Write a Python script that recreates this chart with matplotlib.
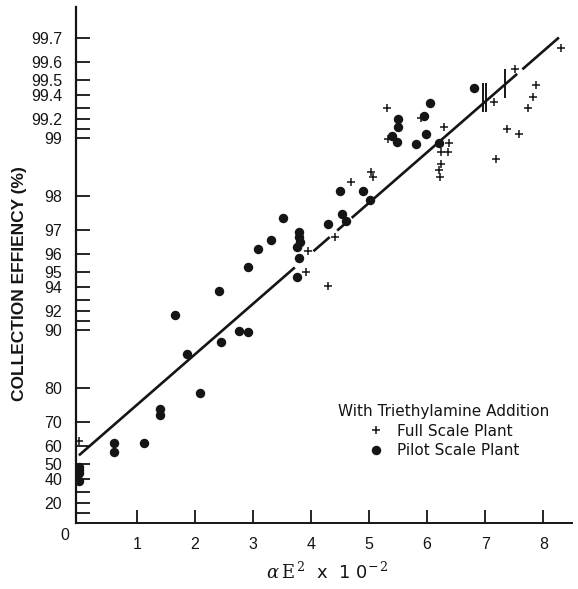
import numpy as np
import matplotlib
matplotlib.use("Agg")
import matplotlib.pyplot as plt

# ---------------- data ----------------
# Pilot scale plant (filled circles): alpha*E^2*1e-2 and collection efficiency (%)
pilot_x = [0.0, 0.0, 0.0, 0.0, 0.60, 0.60, 1.13, 1.40, 1.40, 1.65, 1.86, 2.09,
           2.45, 2.42, 2.75, 2.91, 2.92, 3.08, 3.31, 3.51, 3.75, 3.80, 3.75,
           3.81, 3.79, 3.79, 4.29, 4.50, 4.54, 4.60, 4.90, 5.02, 5.39, 5.48,
           5.49, 5.49, 5.81, 5.95, 5.98, 6.05, 6.20, 6.81]
pilot_eff = [48.5, 46.4, 44.4, 38.8, 61.1, 56.6, 61.2, 74.2, 72.3, 91.6, 86.7, 78.6,
             88.4, 93.7, 89.9, 89.8, 95.3, 96.2, 96.6, 97.4, 94.7, 95.8, 96.3,
             96.5, 96.9, 96.7, 97.2, 98.1, 97.5, 97.3, 98.1, 97.9, 99.02, 98.95,
             99.20, 99.12, 98.92, 99.23, 99.05, 99.34, 98.94, 99.45]

# Full scale plant (plus signs)
full_x = [0.0, 3.91, 3.95, 4.29, 4.41, 4.68, 5.03, 5.07, 5.30, 5.33, 5.89, 6.29,
          6.38, 6.23, 6.36, 6.24, 6.20, 6.22, 7.15, 7.52, 7.37, 7.59, 7.18,
          7.73, 7.83, 7.88, 8.30]
full_eff = [62.0, 95.0, 96.1, 94.1, 96.7, 98.3, 98.5, 98.4, 99.30, 98.99, 99.21, 99.12,
            98.94, 98.82, 98.81, 98.63, 98.53, 98.41, 99.35, 99.56, 99.10, 99.05, 98.71,
            99.30, 99.39, 99.47, 99.66]

# Correlation line: end points (x, efficiency %) and drawn pieces (x ranges)
line_x = [0.0, 8.27]
line_eff = [55.0, 99.70]
line_pieces = [(0.0, 3.72), (4.04, 4.32), (4.45, 4.62), (4.70, 7.55), (7.64, 8.27)]

# Range bars: x, low %, high %
bar_x = [6.97, 7.02, 7.34]
bar_lo = [99.27, 99.27, 99.38]
bar_hi = [99.48, 99.48, 99.56]

y_ticks = [10, 20, 30, 40, 50, 60, 70, 80, 90, 91, 92, 93, 94, 95, 96, 97, 98,
           99, 99.1, 99.2, 99.3, 99.4, 99.5, 99.6, 99.7]
y_ticklabels = ["", "20", "", "40", "50", "60", "70", "80", "90", "", "92", "", "94",
                "95", "96", "97", "98", "99", "", "99.2", "", "99.4", "99.5", "99.6", "99.7"]
x_ticks = [1, 2, 3, 4, 5, 6, 7, 8]
x_ticklabels = ["1", "2", "3", "4", "5", "6", "7", "8"]

legend_title = "With Triethylamine Addition"
full_label = "Full Scale Plant"
pilot_label = "Pilot Scale Plant"
y_label = "COLLECTION EFFIENCY (%)"

# ---------------- scale: -ln(1 - eff) ----------------
def fwd(e):
    e = np.clip(np.asarray(e, dtype=float), -50.0, 99.9999)
    return -np.log1p(-e / 100.0)

def inv(L):
    return 100.0 * (1.0 - np.exp(-np.asarray(L, dtype=float)))

INK = "#151515"
narrow = ["Liberation Sans Narrow", "Liberation Sans", "DejaVu Sans"]

fig = plt.figure(figsize=(5.78, 5.89), dpi=100)
W, H = 578.0, 589.0
ax = fig.add_axes([76 / W, 1 - 523.3 / H, (571.7 - 76) / W, (523.3 - 7) / H])
ax.set_yscale("function", functions=(fwd, inv))
ax.set_xlim(-0.05, 8.49)
ax.set_ylim(inv(-0.016), inv(6.175))

for s in ("top", "right"):
    ax.spines[s].set_visible(False)
ax.spines["left"].set_linewidth(1.6)
ax.spines["bottom"].set_linewidth(1.4)
ax.spines["left"].set_color(INK)
ax.spines["bottom"].set_color(INK)

# correlation line (linear in transformed space)
L0, L1 = fwd(line_eff[0]), fwd(line_eff[1])
slope = (L1 - L0) / (line_x[1] - line_x[0])
for a, b in line_pieces:
    xs = np.array([a, b])
    ys = inv(L0 + slope * (xs - line_x[0]))
    ax.plot(xs, ys, color=INK, lw=1.9, solid_capstyle="butt", zorder=2)

ax.vlines(bar_x, bar_lo, bar_hi, color=INK, lw=1.4, zorder=2)

ax.plot(full_x, full_eff, linestyle="none", marker="+", ms=6, mew=1.1,
        color=INK, zorder=3, label=full_label)
ax.plot(pilot_x, pilot_eff, linestyle="none", marker="o", ms=6.8, mew=0,
        color=INK, zorder=4, label=pilot_label)

ax.set_yticks(y_ticks)
ax.set_yticklabels(y_ticklabels, family=narrow, fontsize=11.5, color=INK)
ax.set_xticks(x_ticks)
ax.set_xticklabels(x_ticklabels, family=narrow, fontsize=11.5, color=INK)
ax.yaxis.set_minor_locator(matplotlib.ticker.NullLocator())
ax.xaxis.set_minor_locator(matplotlib.ticker.NullLocator())
ax.tick_params(axis="y", direction="in", length=10, width=1.3, pad=10, color=INK)
ax.tick_params(axis="x", direction="in", length=9.5, width=1.3, pad=10, color=INK)

fig.text(65 / W, 1 - 535 / H, "0", ha="center", va="center",
         family=narrow, fontsize=11.5, color=INK)

fig.text(20 / W, 1 - 284 / H, y_label, rotation=90, ha="center", va="center",
         family=narrow, fontweight="bold", fontsize=12.5, color=INK)

fig.text(327 / W, 1 - 572 / H, r"$\alpha\,\mathrm{E}^{\,2}$" + "  x  1 0" + r"$^{-\,2}$",
         ha="center", va="center", fontsize=13, color=INK,
         math_fontfamily="dejavuserif")

leg = ax.legend(loc="center", bbox_to_anchor=(444 / W, 1 - 431 / H),
                bbox_transform=fig.transFigure, frameon=False,
                title=legend_title, fontsize=11, title_fontsize=11,
                handlelength=1.0, handletextpad=0.9, labelspacing=0.3,
                borderpad=0, borderaxespad=0)
for t in leg.get_texts():
    t.set_color(INK)
leg.get_title().set_color(INK)

fig.savefig("out.png", dpi=100)
